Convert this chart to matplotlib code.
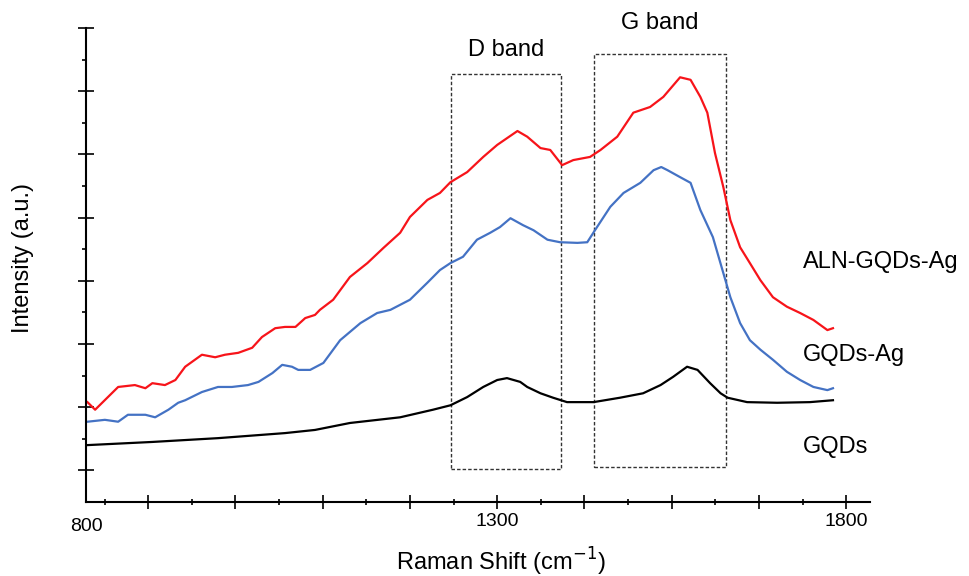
import matplotlib.pyplot as plt
from matplotlib.patches import Rectangle
import numpy as np

plt.rcParams['font.family'] = ['Liberation Sans', 'DejaVu Sans']

# ALN-GQDs-Ag (red)
red_x = [713, 724, 757, 781, 796, 806, 824, 839, 853, 877, 896, 910, 929, 949, 963,
         982, 996, 1011, 1025, 1039, 1046, 1065, 1089, 1114, 1137, 1161, 1175, 1200,
         1218, 1233, 1257, 1280, 1300, 1329, 1343, 1362, 1376, 1393, 1409, 1433, 1448,
         1472, 1495, 1519, 1538, 1562, 1577, 1591, 1601, 1612, 1624, 1634, 1648, 1662,
         1677, 1695, 1715, 1734, 1753, 1773, 1781]
red_y = [1.58, 1.46, 1.82, 1.85, 1.80, 1.88, 1.85, 1.93, 2.14, 2.33, 2.29, 2.33, 2.36,
         2.44, 2.61, 2.75, 2.77, 2.77, 2.91, 2.96, 3.04, 3.20, 3.56, 3.78, 4.02, 4.26,
         4.51, 4.78, 4.89, 5.06, 5.22, 5.46, 5.65, 5.87, 5.78, 5.60, 5.57, 5.33, 5.41,
         5.46, 5.57, 5.78, 6.16, 6.25, 6.41, 6.72, 6.68, 6.41, 6.16, 5.52, 4.98, 4.46,
         4.03, 3.78, 3.51, 3.24, 3.09, 2.99, 2.88, 2.72, 2.75]

# GQDs-Ag (blue)
blue_x = [713, 738, 757, 771, 796, 810, 829, 843, 853, 877, 900, 920, 943, 958, 978,
          992, 1006, 1015, 1032, 1051, 1075, 1104, 1128, 1147, 1175, 1200, 1218, 1233,
          1251, 1271, 1290, 1304, 1319, 1337, 1352, 1372, 1390, 1415, 1429, 1443, 1462,
          1481, 1505, 1524, 1535, 1544, 1562, 1577, 1591, 1609, 1624, 1634, 1648, 1662,
          1677, 1695, 1715, 1734, 1753, 1773, 1781]
blue_y = [1.27, 1.30, 1.27, 1.38, 1.38, 1.34, 1.46, 1.57, 1.61, 1.74, 1.82, 1.82, 1.85,
          1.90, 2.04, 2.17, 2.14, 2.09, 2.09, 2.20, 2.56, 2.83, 2.99, 3.04, 3.20, 3.47,
          3.67, 3.78, 3.88, 4.15, 4.26, 4.35, 4.49, 4.38, 4.30, 4.15, 4.11, 4.10, 4.11,
          4.35, 4.67, 4.89, 5.05, 5.25, 5.30, 5.25, 5.14, 5.05, 4.62, 4.19, 3.62, 3.24,
          2.83, 2.56, 2.41, 2.25, 2.06, 1.93, 1.82, 1.77, 1.80]

# GQDs (black)
black_x = [713, 806, 900, 996, 1039, 1089, 1161, 1208, 1233, 1257, 1280, 1300, 1314,
           1333, 1343, 1362, 1380, 1400, 1438, 1476, 1509, 1534, 1552, 1572, 1587, 1605,
           1620, 1630, 1658, 1701, 1748, 1781]
black_y = [0.90, 0.95, 1.01, 1.09, 1.14, 1.25, 1.34, 1.46, 1.53, 1.66, 1.82, 1.93, 1.96,
           1.90, 1.82, 1.72, 1.65, 1.58, 1.58, 1.65, 1.72, 1.85, 1.98, 2.14, 2.09, 1.88,
           1.72, 1.65, 1.58, 1.57, 1.58, 1.61]

series_names = ['ALN-GQDs-Ag', 'GQDs-Ag', 'GQDs']
label_y = [3.80, 2.33, 0.87]
d_band = (1234, 1392, 0.52, 6.77)
g_band = (1439, 1628, 0.55, 7.09)

fig = plt.figure(figsize=(9.69, 5.76), dpi=100)
ax = fig.add_axes([0.0888, 0.1285, 0.809, 0.8229])

ax.plot(red_x, red_y, color='#f7141a', lw=1.6)
ax.plot(blue_x, blue_y, color='#4472c4', lw=1.6)
ax.plot(black_x, black_y, color='black', lw=1.6)

# dashed boxes around the bands
for x0, x1, y0, y1 in [d_band, g_band]:
    ax.add_patch(Rectangle((x0, y0), x1 - x0, y1 - y0, fill=False, ec='#333333',
                           lw=1.0, ls=(0, (2.5, 1.5)), clip_on=False))
ax.text((d_band[0] + d_band[1]) / 2, 7.15, 'D band', ha='center', va='center', fontsize=17)
ax.text((g_band[0] + g_band[1]) / 2, 7.58, 'G band', ha='center', va='center', fontsize=17)

for name, yy in zip(series_names, label_y):
    ax.text(1738, yy, name, ha='left', va='center', fontsize=17, clip_on=False)

ax.set_xlim(711, 1834)
ax.set_ylim(0, 7.5)
for s in ['top', 'right']:
    ax.spines[s].set_visible(False)
for s in ['left', 'bottom']:
    ax.spines[s].set_linewidth(1.5)

major_x = np.arange(800, 1801, 125)
ax.set_xticks(major_x)
ax.set_xticklabels(['1300' if v == 1300 else '1800' if v == 1800 else '' for v in major_x])
ax.set_xticks(np.arange(737.5, 1800, 125), minor=True)
ax.set_yticks(np.arange(0.5, 7.6, 1))
ax.set_yticklabels([])
ax.set_yticks(np.arange(1, 7.1, 1), minor=True)
ax.tick_params(axis='x', which='major', direction='inout', length=9.5, width=1.2,
               labelsize=14, pad=3)
ax.tick_params(axis='x', which='minor', direction='inout', length=4.5, width=1.2)
ax.tick_params(axis='y', which='major', direction='inout', length=11, width=1.2)
ax.tick_params(axis='y', which='minor', direction='out', length=3, width=1.2)
ax.text(0, -0.033, '800', transform=ax.transAxes, ha='center', va='top', fontsize=14)

ax.set_xlabel('Raman Shift (cm$^{-1}$)', fontsize=17)
ax.xaxis.set_label_coords(0.529, -0.092)
ax.set_ylabel('Intensity (a.u.)', fontsize=17)
ax.yaxis.set_label_coords(-0.066, 0.515)

fig.savefig('out.png', dpi=100)
